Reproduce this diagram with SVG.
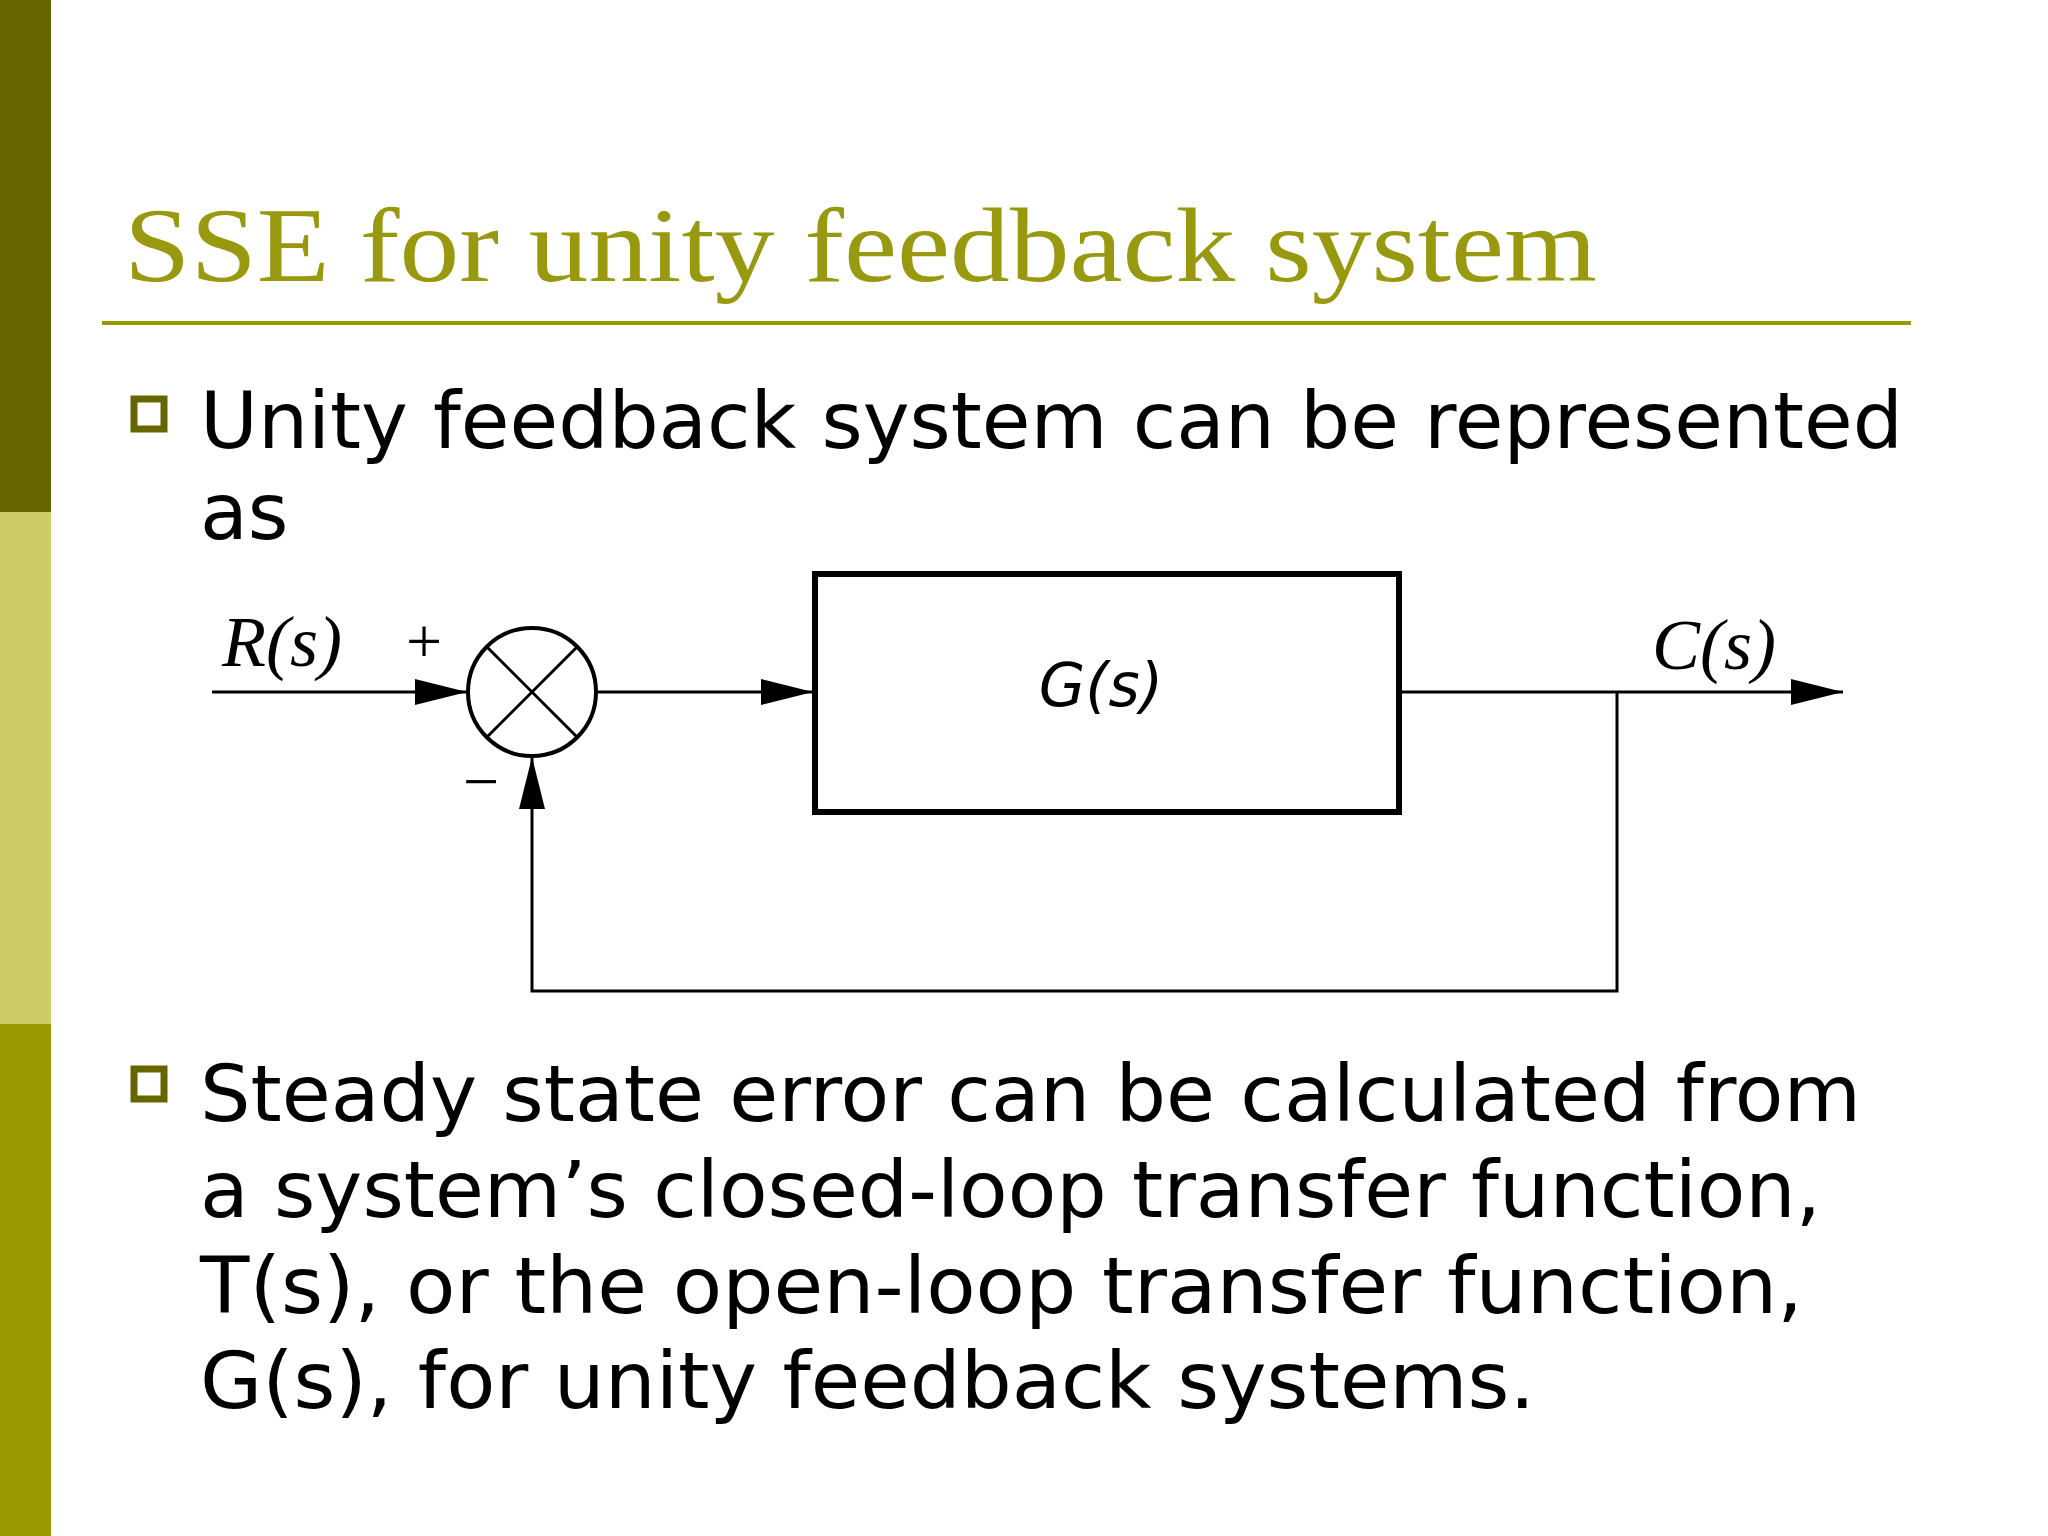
<svg xmlns="http://www.w3.org/2000/svg" width="2048" height="1536" viewBox="0 0 2048 1536">
<defs>
<style>
.body{font-family:"DejaVu Sans","Verdana",sans-serif;font-size:78px;fill:#000}
.math{font-family:"Liberation Serif",serif;font-style:italic;font-size:72px;fill:#000}
.ln{stroke:#000;stroke-width:3;fill:none}
.bul{fill:none;stroke:#666600;stroke-width:7}
</style>
<marker id="ar" viewBox="0 0 52 26" refX="52" refY="13" markerWidth="52" markerHeight="26" markerUnits="userSpaceOnUse" orient="auto">
<path d="M0,0 L52,13 L0,26 Z" fill="#000"/>
</marker>
</defs>
<rect width="2048" height="1536" fill="#fff"/>
<rect x="0" y="0" width="51" height="512" fill="#666600"/>
<rect x="0" y="512" width="51" height="512" fill="#CCCC66"/>
<rect x="0" y="1024" width="51" height="512" fill="#999900"/>
<text x="124" y="281" font-family="Liberation Serif,serif" font-size="106" fill="#999910" textLength="1473" lengthAdjust="spacingAndGlyphs">SSE for unity feedback system</text>
<line x1="102" y1="323" x2="1911" y2="323" stroke="#999900" stroke-width="4"/>
<rect class="bul" x="134" y="399" width="30" height="30"/>
<text class="body" x="200" y="448" textLength="1703" lengthAdjust="spacingAndGlyphs">Unity feedback system can be represented</text>
<text class="body" x="200" y="539">as</text>
<g id="connectors">
<line class="ln" x1="212" y1="692" x2="467" y2="692" marker-end="url(#ar)"/>
<line class="ln" x1="597" y1="692" x2="813" y2="692" marker-end="url(#ar)"/>
<line class="ln" x1="1399" y1="692" x2="1843" y2="692" marker-end="url(#ar)"/>
<polyline class="ln" points="1617,692 1617,991 532,991 532,757" marker-end="url(#ar)"/>
</g>
<g id="sum">
<circle cx="532" cy="692" r="64" fill="none" stroke="#000" stroke-width="4"/>
<line class="ln" x1="487" y1="647" x2="577" y2="737" stroke-width="4"/>
<line class="ln" x1="577" y1="647" x2="487" y2="737" stroke-width="4"/>
</g>
<g id="G">
<rect x="815" y="574" width="584" height="238" fill="#fff" stroke="#000" stroke-width="6"/>
<text x="1101" y="706" font-family="DejaVu Sans,sans-serif" font-size="60" text-anchor="middle" font-style="italic">G(s)</text>
</g>
<text class="math" x="222" y="666">R(s)</text>
<text x="424" y="663" font-family="Liberation Serif,serif" font-size="64" text-anchor="middle">+</text>
<text x="481" y="803" font-family="Liberation Serif,serif" font-size="64" text-anchor="middle">−</text>
<text class="math" x="1652" y="669">C(s)</text>
<rect class="bul" x="134" y="1069" width="30" height="30"/>
<text class="body" x="200" y="1121" textLength="1661" lengthAdjust="spacingAndGlyphs">Steady state error can be calculated from</text>
<text class="body" x="200" y="1217" textLength="1621" lengthAdjust="spacingAndGlyphs">a system’s closed-loop transfer function,</text>
<text class="body" x="200" y="1313" textLength="1603" lengthAdjust="spacingAndGlyphs">T(s), or the open-loop transfer function,</text>
<text class="body" x="200" y="1408" textLength="1335" lengthAdjust="spacingAndGlyphs">G(s), for unity feedback systems.</text>
</svg>
